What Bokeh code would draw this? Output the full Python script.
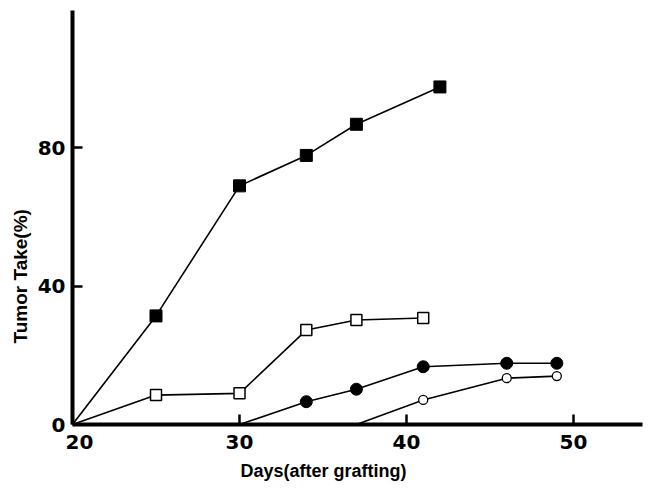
from bokeh.plotting import figure
from bokeh.models import Range1d, FixedTicker, Title
from bokeh.embed import file_html
from bokeh.resources import INLINE

# ---- data ----
filled_sq_x = [20, 25, 30, 34, 37, 42]
filled_sq_y = [0, 31.4, 69, 77.8, 86.8, 97.6]

open_sq_x = [20, 25, 30, 34, 37, 41]
open_sq_y = [0, 8.5, 9.0, 27.3, 30.2, 30.8]

filled_ci_x = [30, 34, 37, 41, 46, 49]
filled_ci_y = [0, 6.6, 10.2, 16.7, 17.7, 17.7]

open_ci_x = [37, 41, 46, 49]
open_ci_y = [0, 7.1, 13.4, 14.0]

x_ticks = [20, 30, 40, 50]
y_ticks = [0, 40, 80]
x_title = "Days(after grafting)"
y_title = "Tumor Take(%)"

p = figure(width=644, height=483, output_backend="svg", toolbar_location=None,
           x_range=Range1d(20, 54.13), y_range=Range1d(0, 119.7),
           min_border_left=72, min_border_right=2, min_border_top=10, min_border_bottom=59)
p.outline_line_color = None
p.xgrid.visible = False
p.ygrid.visible = False
p.background_fill_color = "white"

for ax in (p.xaxis[0], p.yaxis[0]):
    ax.axis_line_width = 4
    ax.axis_line_color = "black"
    ax.major_tick_in = 10
    ax.major_tick_out = 0
    ax.major_tick_line_width = 2.5
    ax.minor_tick_line_color = None
    ax.major_label_text_font = "DejaVu Sans"
    ax.major_label_text_font_style = "bold"
    ax.major_label_text_font_size = "20px"
    ax.major_label_text_color = "black"

p.xaxis.ticker = FixedTicker(ticks=x_ticks)
p.yaxis.ticker = FixedTicker(ticks=y_ticks)
p.xaxis.major_label_standoff = 5
p.yaxis.major_label_standoff = 7
# first x label sits a little right of its tick
p.xaxis.major_label_overrides = {x_ticks[0]: "\u00a0\u00a0" + str(x_ticks[0])}

lw = 1.6
# filled squares
p.line(filled_sq_x, filled_sq_y, line_color="black", line_width=lw)
p.scatter(filled_sq_x[1:], filled_sq_y[1:], marker="square", size=12,
          fill_color="black", line_color="black")
# open squares
p.line(open_sq_x, open_sq_y, line_color="black", line_width=lw)
p.scatter(open_sq_x[1:], open_sq_y[1:], marker="square", size=11,
          fill_color="white", line_color="black", line_width=1.5)
# filled circles
p.line(filled_ci_x, filled_ci_y, line_color="black", line_width=lw)
p.scatter(filled_ci_x[1:], filled_ci_y[1:], marker="circle", size=12,
          fill_color="black", line_color="black")
# open circles
p.line(open_ci_x, open_ci_y, line_color="black", line_width=lw)
p.scatter(open_ci_x[1:], open_ci_y[1:], marker="circle", size=9,
          fill_color="white", line_color="black", line_width=1.3)

# axis titles as side titles (positioned with align/offset)
p.add_layout(Title(text=y_title, align="left", offset=81, vertical_align="bottom",
                   standoff=7, text_font="Liberation Sans", text_font_style="bold",
                   text_font_size="19px", text_color="black"), "left")
p.add_layout(Title(text=x_title, align="left", offset=168, vertical_align="bottom",
                   standoff=4, text_font="Liberation Sans", text_font_style="bold",
                   text_font_size="18px", text_color="black"), "below")

open("out.html", "w").write(file_html(p, INLINE))
